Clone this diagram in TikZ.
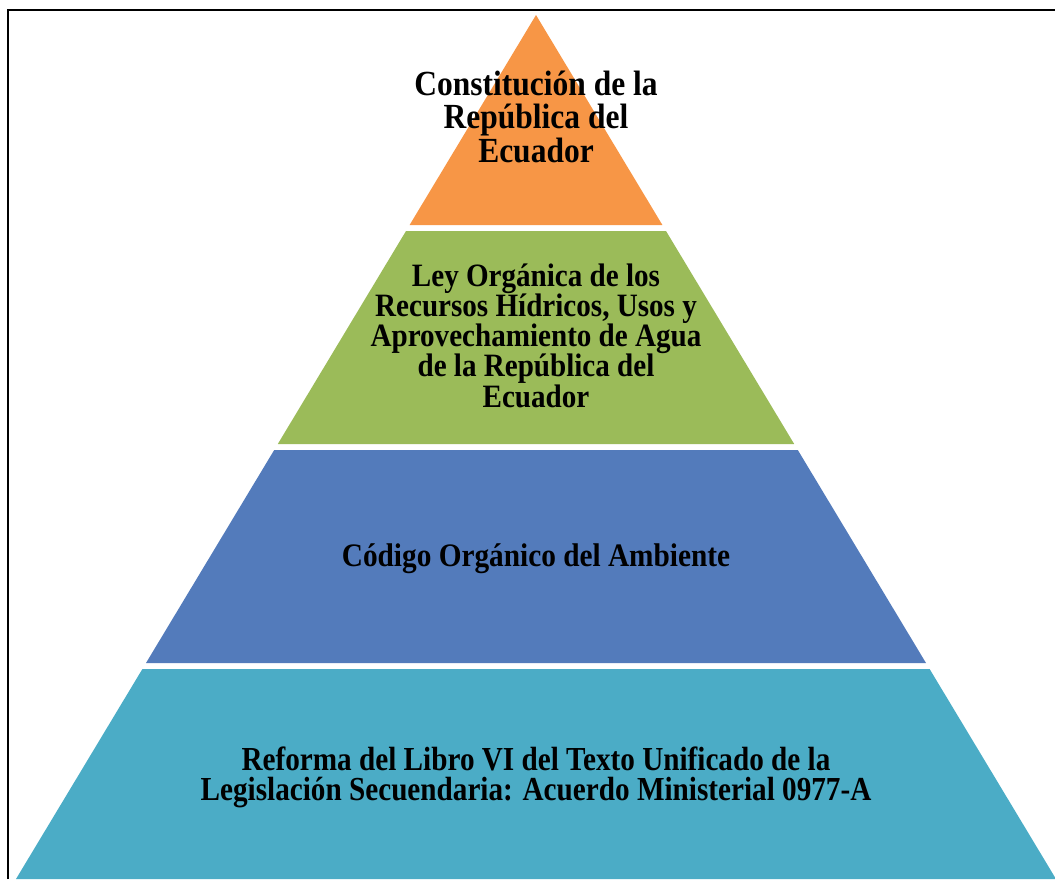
\documentclass[tikz,border=0pt]{standalone}
\usepackage{graphicx}
\usepackage{fontspec}
\setmainfont{Liberation Serif}
\definecolor{tierorange}{HTML}{F79646}
\definecolor{tiergreen}{HTML}{9BBB59}
\definecolor{tierblue}{HTML}{537BBB}
\definecolor{tierteal}{HTML}{4BACC6}
\newcommand{\tall}[1]{\scalebox{1}[1.12]{#1}}
\newcommand{\taller}[1]{\scalebox{1}[1.15]{#1}}
\lineskiplimit=-100pt
\tikzset{
  tiertext/.style={align=center, inner sep=0pt, text=black, anchor=base},
  frameline/.style={line width=2pt, draw=black}
}
\begin{document}
\begin{tikzpicture}[x=1pt, y=-1pt]
\useasboundingbox (0,0) rectangle (1055,879);
% frame
\coordinate (fA) at (8,879);
\coordinate (fB) at (8,10);
\coordinate (fC) at (1055,10);
\draw[frameline] (fA) -- (fB) -- (fC);
% tiers
\fill[tierorange] (536,15) -- (662.4,225) -- (409.6,225) -- cycle;
\fill[tiergreen] (406,231) -- (666,231) -- (794.2,444) -- (277.8,444) -- cycle;
\fill[tierblue] (274.2,450) -- (797.8,450) -- (926,663) -- (146,663) -- cycle;
\fill[tierteal] (142.4,669) -- (929.6,669) -- (1056,879) -- (16,879) -- cycle;
% texts
\node[tiertext, font=\bfseries\fontsize{31.5}{33.5}\selectfont] (t1) at (536,162)
  {\tall{Constitución de la}\\ \tall{República del}\\ \tall{Ecuador}};
\node[tiertext, font=\bfseries\fontsize{29.1}{30.2}\selectfont] (t2) at (536,407)
  {\tall{Ley Orgánica de los}\\ \tall{Recursos Hídricos, Usos y}\\ \tall{Aprovechamiento de Agua}\\ \tall{de la República del}\\ \tall{Ecuador}};
\node[tiertext, font=\bfseries\fontsize{29.3}{33}\selectfont] (t3) at (536,566)
  {\tall{Código Orgánico del Ambiente}};
\node[tiertext, font=\bfseries\fontsize{29.2}{30}\selectfont] (t4) at (536,800)
  {\taller{Reforma del Libro VI del Texto Unificado de la}\\ \taller{Legislación Secuendaria: Acuerdo Ministerial 0977-A}};
\end{tikzpicture}
\end{document}
